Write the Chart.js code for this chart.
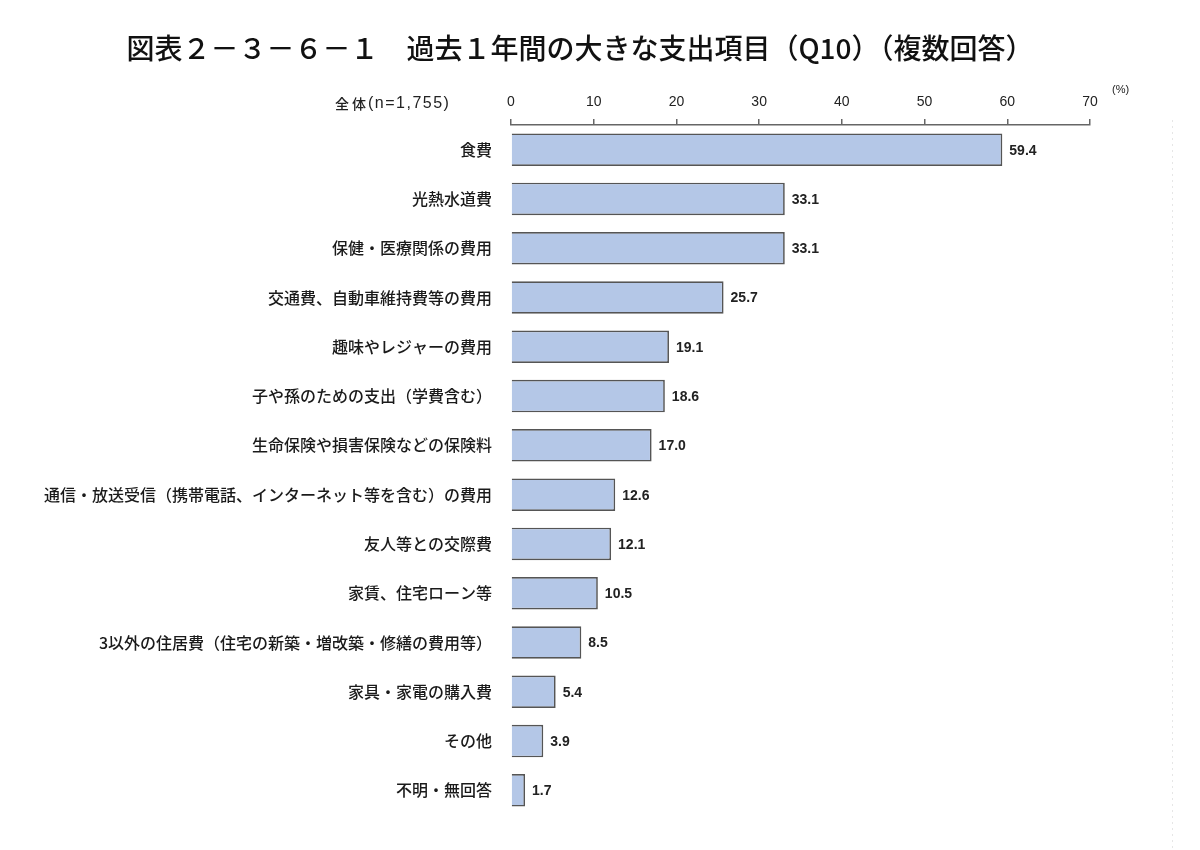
<!DOCTYPE html>
<html>
<head>
<meta charset="utf-8">
<script src="https://cdn.jsdelivr.net/npm/chart.js@4"></script>
<style>
  html, body { margin: 0; padding: 0; background: #fff; }
  #wrap { width: 1200px; height: 850px; }
</style>
</head>
<body>
<div id="wrap"><canvas id="myChart" width="1200" height="850"></canvas></div>
<script>
const titleText = '図表２－３－６－１　過去１年間の大きな支出項目（Q10）（複数回答）';
const baseLabel = ['全', '体', '(n=1,755)'];
const unitLabel = '(%)';

const categories = [
    '食費',
    '光熱水道費',
    '保健・医療関係の費用',
    '交通費、自動車維持費等の費用',
    '趣味やレジャーの費用',
    '子や孫のための支出（学費含む）',
    '生命保険や損害保険などの保険料',
    '通信・放送受信（携帯電話、インターネット等を含む）の費用',
    '友人等との交際費',
    '家賃、住宅ローン等',
    '3以外の住居費（住宅の新築・増改築・修繕の費用等）',
    '家具・家電の購入費',
    'その他',
    '不明・無回答',
];

const values = [59.4, 33.1, 33.1, 25.7, 19.1, 18.6, 17.0, 12.6, 12.1, 10.5, 8.5, 5.4, 3.9, 1.7];

const xTicks = [0, 10, 20, 30, 40, 50, 60, 70];

const jpFont = '"Noto Sans CJK JP", "Noto Sans", sans-serif';
const numFont = '"Liberation Sans", Arial, sans-serif';

// header texts, value labels and the faint frame line
const decorations = {
    id: 'decorations',
    afterDatasetsDraw(chart) {
        const ctx = chart.ctx;
        const area = chart.chartArea;
        ctx.save();

        ctx.fillStyle = '#111';
        ctx.font = '500 28px ' + jpFont;
        ctx.textAlign = 'center';
        ctx.textBaseline = 'middle';
        ctx.fillText(titleText, 580, 48);

        ctx.textAlign = 'left';
        ctx.fillStyle = '#222';
        ctx.font = '500 14px ' + jpFont;
        ctx.fillText(baseLabel[0], 335, 104);
        ctx.fillText(baseLabel[1], 352, 104);
        ctx.font = '16px ' + numFont;
        ctx.letterSpacing = '1.5px';
        ctx.fillText(baseLabel[2], 368, 104);
        ctx.letterSpacing = '0px';

        ctx.font = '11px ' + numFont;
        ctx.fillText(unitLabel, area.right + 22, 90);

        ctx.font = 'bold 14px ' + numFont;
        ctx.fillStyle = '#222';
        const meta = chart.getDatasetMeta(0);
        meta.data.forEach((bar, i) => {
            ctx.fillText(values[i].toFixed(1), bar.x + 7, bar.y + 1);
        });

        ctx.strokeStyle = '#e6e6e6';
        ctx.setLineDash([2, 4]);
        ctx.lineWidth = 1;
        ctx.beginPath();
        ctx.moveTo(1172.5, 120);
        ctx.lineTo(1172.5, 850);
        ctx.stroke();
        ctx.restore();
    }
};

const data = {
    labels: categories,
    datasets: [
        {
            data: values,
            backgroundColor: '#b4c7e7',
            borderColor: '#555',
            borderWidth: 1.7,
            barPercentage: 0.66,
            categoryPercentage: 1.0,
        },
    ]
};

const config = {
    type: 'bar',
    data: data,
    options: {
        indexAxis: 'y',
        responsive: false,
        animation: false,
        layout: {
            padding: { top: 85, right: 110, bottom: 35, left: 0 }
        },
        plugins: {
            legend: { display: false },
            title: { display: false },
            tooltip: { enabled: false }
        },
        scales: {
            x: {
                position: 'top',
                min: 0,
                max: 70,
                afterBuildTicks(axis) {
                    axis.ticks = xTicks.map(v => ({ value: v }));
                },
                afterFit(axis) {
                    axis.height = 40;
                },
                grid: {
                    drawOnChartArea: false,
                    drawTicks: true,
                    tickLength: 6,
                    tickColor: '#666',
                    lineWidth: 1.5
                },
                border: { display: true, color: '#666', width: 1.5 },
                ticks: {
                    color: '#222',
                    padding: 8,
                    font: { family: numFont, size: 14 }
                }
            },
            y: {
                afterFit(axis) {
                    axis.width = 511;
                },
                grid: { display: false, drawTicks: false },
                border: { display: false },
                ticks: {
                    color: '#1a1a1a',
                    padding: 19,
                    autoSkip: false,
                    font: { family: jpFont, size: 16, weight: 500 }
                }
            }
        }
    },
    plugins: [decorations]
};

const chart = new Chart(
    document.getElementById('myChart'),
    config
);
</script>
</body>
</html>
